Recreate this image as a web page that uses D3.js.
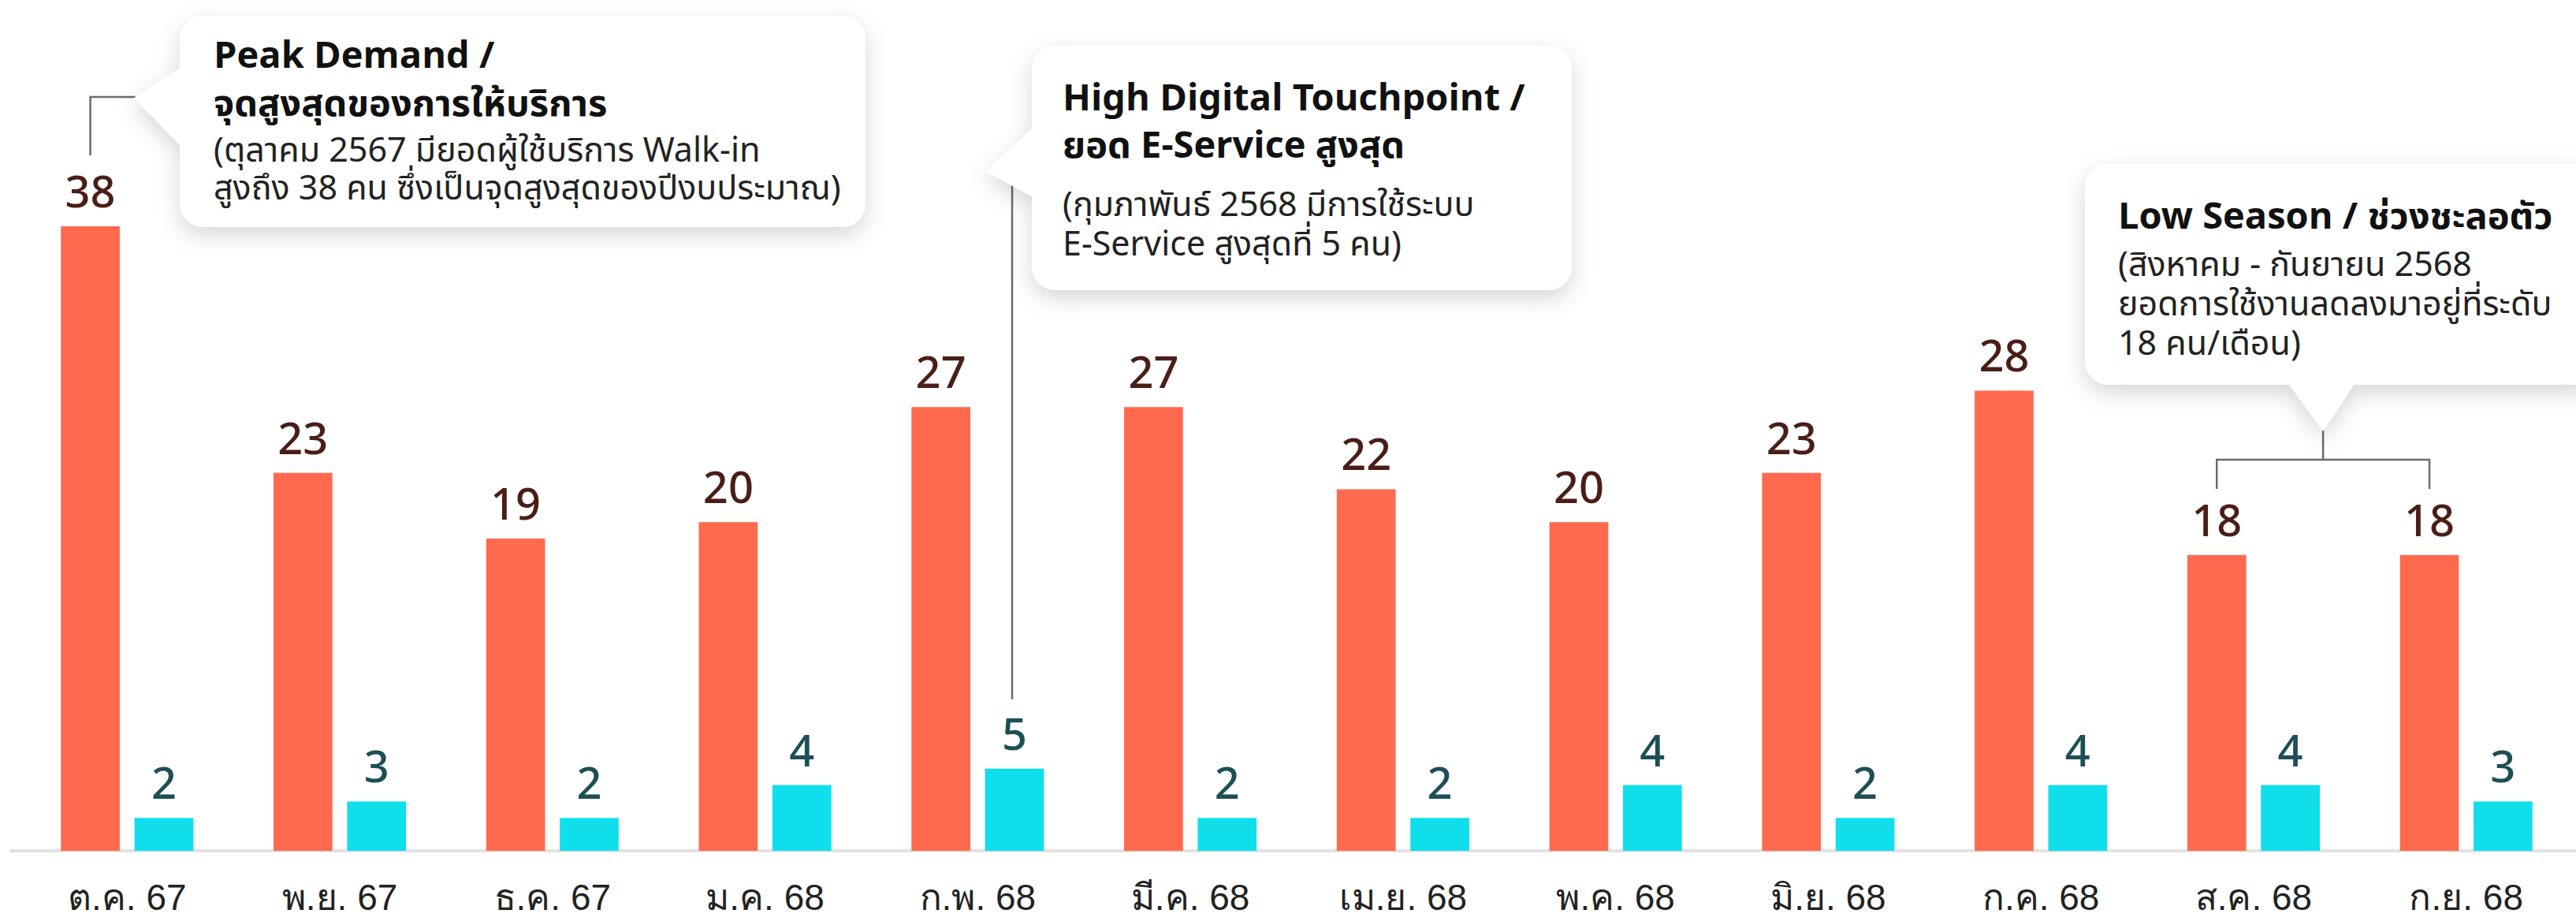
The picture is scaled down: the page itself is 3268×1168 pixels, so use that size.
<!DOCTYPE html>
<html>
<head>
<meta charset="utf-8">
<script src="https://cdn.jsdelivr.net/npm/d3@7"></script>
<style>
  html, body { margin: 0; padding: 0; background: #ffffff; }
  svg { display: block; font-family: "Noto Sans Thai", "Noto Sans", Roboto, "DejaVu Sans", sans-serif; }
</style>
</head>
<body>
<svg id="chart" width="3268" height="1168"></svg>
<script>
// ---- data ----
const months = ["ต.ค. 67", "พ.ย. 67", "ธ.ค. 67", "ม.ค. 68", "ก.พ. 68", "มี.ค. 68",
                "เม.ย. 68", "พ.ค. 68", "มิ.ย. 68", "ก.ค. 68", "ส.ค. 68", "ก.ย. 68"];
const walkIn = [38, 23, 19, 20, 27, 27, 22, 20, 23, 28, 18, 18];
const eService = [2, 3, 2, 4, 5, 2, 2, 4, 2, 4, 4, 3];
const seriesKeys = ["walkin", "eservice"];

const notePeak = {
  title: ["Peak Demand /", "จุดสูงสุดของการให้บริการ"],
  body: ["(ตุลาคม 2567 มียอดผู้ใช้บริการ Walk-in", "สูงถึง 38 คน ซึ่งเป็นจุดสูงสุดของปีงบประมาณ)"]
};
const noteDigital = {
  title: ["High Digital Touchpoint /", "ยอด E-Service สูงสุด"],
  body: ["(กุมภาพันธ์ 2568 มีการใช้ระบบ", "E-Service สูงสุดที่ 5 คน)"]
};
const noteLow = {
  title: ["Low Season / ช่วงชะลอตัว"],
  body: ["(สิงหาคม - กันยายน 2568", "ยอดการใช้งานลดลงมาอยู่ที่ระดับ", "18 คน/เดือน)"]
};

const data = months.map((m, i) => ({ month: m, walkin: walkIn[i], eservice: eService[i] }));

// ---- setup ----
const width = 3268, height = 1168;
const baseY = 1079, topY = 287;
const colors = { walkin: "#ff6a4f", eservice: "#0fdfeb" };
const labelColors = { walkin: "#4a1e17", eservice: "#1d4f55" };

const svg = d3.select("#chart");

const defs = svg.append("defs");
defs.append("filter")
    .attr("id", "shadow")
    .attr("x", "-20%").attr("y", "-30%").attr("width", "140%").attr("height", "170%")
  .append("feDropShadow")
    .attr("dx", 0).attr("dy", 10)
    .attr("stdDeviation", 14)
    .attr("flood-color", "#000")
    .attr("flood-opacity", 0.16);

const x0 = d3.scaleBand()
    .domain(months)
    .range([26, 3264])
    .paddingInner(0.377)
    .paddingOuter(0.19);

const x1 = d3.scaleBand()
    .domain(seriesKeys)
    .range([0, x0.bandwidth()])
    .paddingInner(0.2);

const y = d3.scaleLinear()
    .domain([0, 38])
    .range([baseY, topY]);

const barCenter = (m, k) => x0(m) + x1(k) + x1.bandwidth() / 2;

// baseline
svg.append("line")
    .attr("x1", 12).attr("x2", width)
    .attr("y1", baseY).attr("y2", baseY)
    .attr("stroke", "#e2e2e2")
    .attr("stroke-width", 4);

// x axis labels
svg.append("g")
    .attr("transform", `translate(0,${baseY})`)
    .call(d3.axisBottom(x0).tickSize(0).tickSizeOuter(0))
    .call(g => g.select(".domain").remove())
    .selectAll(".tick text")
    .attr("y", 75)
    .attr("dy", 0)
    .attr("fill", "#222")
    .style("font-size", "46px")
    .style("font-family", "inherit");

// bars + value labels
const groups = svg.append("g")
  .selectAll("g")
  .data(data)
  .join("g")
    .attr("transform", d => `translate(${x0(d.month)},0)`);

groups.selectAll("rect")
  .data(d => seriesKeys.map(k => ({ key: k, value: d[k] })))
  .join("rect")
    .attr("x", d => x1(d.key))
    .attr("y", d => y(d.value))
    .attr("width", x1.bandwidth())
    .attr("height", d => y(0) - y(d.value))
    .attr("fill", d => colors[d.key]);

groups.selectAll("text")
  .data(d => seriesKeys.map(k => ({ key: k, value: d[k] })))
  .join("text")
    .attr("x", d => x1(d.key) + x1.bandwidth() / 2)
    .attr("y", d => y(d.value) - 24)
    .attr("text-anchor", "middle")
    .attr("fill", d => labelColors[d.key])
    .style("font-size", "56px")
    .style("font-weight", 500)
    .text(d => d.value);

// ---- callouts ----
const connector = "#6b6b6b";

function callout(box, pointer, note, textX, titleYs, bodyYs) {
  const g = svg.append("g");
  const shape = g.append("g").attr("filter", "url(#shadow)");
  shape.append("rect")
      .attr("x", box.x).attr("y", box.y)
      .attr("width", box.w).attr("height", box.h)
      .attr("rx", 30)
      .attr("fill", "#fff");
  shape.append("path")
      .attr("d", "M" + pointer.map(p => p.join(",")).join("L") + "Z")
      .attr("fill", "#fff");
  note.title.forEach((t, i) => {
    g.append("text")
        .attr("x", textX).attr("y", titleYs[i])
        .attr("fill", "#111")
        .style("font-size", "47px")
        .style("font-weight", 700)
        .text(t);
  });
  note.body.forEach((t, i) => {
    g.append("text")
        .attr("x", textX).attr("y", bodyYs[i])
        .attr("fill", "#222")
        .style("font-size", "43px")
        .text(t);
  });
}

// connectors drawn first so boxes sit over them
const peakX = barCenter(months[0], "walkin");
svg.append("path")
    .attr("d", `M172,123H${peakX}V197`)
    .attr("fill", "none").attr("stroke", connector).attr("stroke-width", 2.5);

const digX = barCenter(months[4], "eservice") - 3;
svg.append("path")
    .attr("d", `M${digX},225V${y(eService[4]) - 88}`)
    .attr("fill", "none").attr("stroke", connector).attr("stroke-width", 2.5);

const lowA = barCenter(months[10], "walkin");
const lowB = barCenter(months[11], "walkin");
const lowMid = (lowA + lowB) / 2;
svg.append("path")
    .attr("d", `M${lowMid},545V583M${lowA},620V583H${lowB}V620`)
    .attr("fill", "none").attr("stroke", connector).attr("stroke-width", 2.5);

callout({ x: 228, y: 20, w: 870, h: 268 },
        [[236, 82], [170, 124], [236, 192]],
        notePeak, 271, [86, 147], [205, 253]);

callout({ x: 1309, y: 58, w: 685, h: 310 },
        [[1316, 157], [1250, 217], [1316, 253]],
        noteDigital, 1348, [140, 200], [274, 324]);

callout({ x: 2645, y: 208, w: 660, h: 280 },
        [[2900, 482], [lowMid, 547], [2990, 482]],
        noteLow, 2687, [290], [350, 400, 450]);
</script>
</body>
</html>
